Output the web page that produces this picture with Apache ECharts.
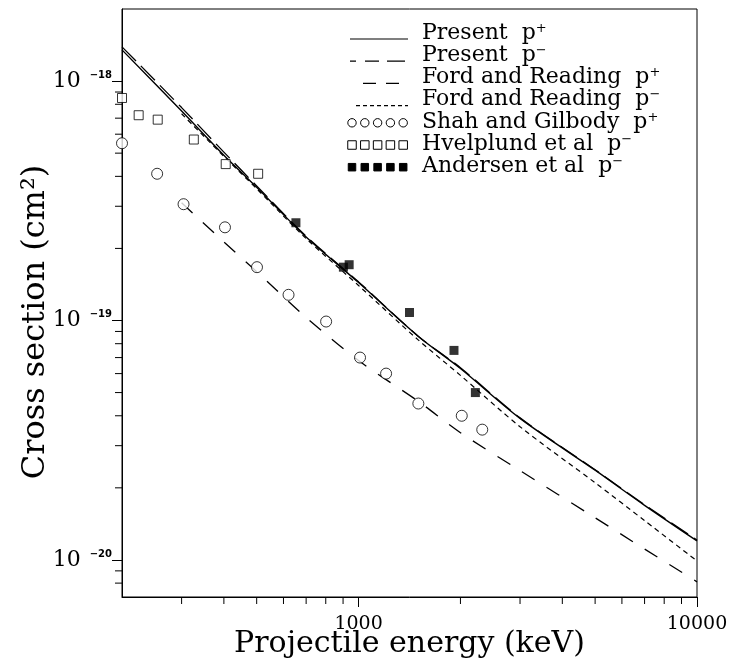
<!DOCTYPE html>
<html>
<head>
<meta charset="utf-8">
<script src="https://cdn.jsdelivr.net/npm/echarts@6/dist/echarts.min.js"></script>
<style>
  html, body { margin: 0; padding: 0; background: #fff; }
  #chart { width: 731px; height: 664px; }
</style>
</head>
<body>
<div id="chart"></div>
<script>
// projectile energy (keV) and cross section (cm^2)
const curveE = [200, 300, 400, 500, 700, 1000, 1500, 2000, 3000, 5000, 7000, 10000];
const presentPlus = [1.35e-18, 7.5e-19, 4.9e-19, 3.6e-19, 2.23e-19, 1.44e-19, 8.6e-20, 6.3e-20, 3.9e-20, 2.37e-20, 1.69e-20, 1.2e-20];
const presentMinus = [1.39e-18, 7.75e-19, 5.05e-19, 3.65e-19, 2.25e-19, 1.45e-19, 8.6e-20, 6.35e-20, 3.92e-20, 2.38e-20, 1.7e-20, 1.21e-20];

const fordE = [300, 400, 500, 700, 1000, 1500, 2000, 3000, 5000, 7000, 10000];
const fordPlus = [3.1e-19, 2.13e-19, 1.6e-19, 1.03e-19, 6.8e-20, 4.6e-20, 3.4e-20, 2.36e-20, 1.5e-20, 1.11e-20, 8.1e-21];
const fordMinus = [7.3e-19, 4.85e-19, 3.55e-19, 2.2e-19, 1.4e-19, 8.3e-20, 5.9e-20, 3.6e-20, 2.1e-20, 1.46e-20, 9.9e-21];

const shahE = [200, 254, 304, 403, 501, 621, 802, 1010, 1206, 1502, 2018, 2320];
const shahSigma = [5.5e-19, 4.1e-19, 3.06e-19, 2.45e-19, 1.67e-19, 1.28e-19, 9.9e-20, 7.0e-20, 6.0e-20, 4.5e-20, 4.0e-20, 3.5e-20];

const hvelE = [200, 224, 255, 326, 405, 505];
const hvelSigma = [8.5e-19, 7.2e-19, 6.9e-19, 5.7e-19, 4.5e-19, 4.1e-19];

const andE = [653, 902, 938, 1414, 1914, 2214];
const andSigma = [2.56e-19, 1.67e-19, 1.71e-19, 1.08e-19, 7.5e-20, 5.0e-20];

const xMin = 200, xMax = 10000;
const yMin = 7e-21, yMax = 2e-18;
const xMinorTicks = [300, 400, 500, 600, 700, 800, 900, 2000, 3000, 4000, 5000, 6000, 7000, 8000, 9000];
const yMinorTicks = [8e-21, 9e-21, 2e-20, 3e-20, 4e-20, 5e-20, 6e-20, 7e-20, 8e-20, 9e-20,
  2e-19, 3e-19, 4e-19, 5e-19, 6e-19, 7e-19, 8e-19, 9e-19];

const legendRows = [
  { name: 'Present', sign: '+', kind: 'solid' },
  { name: 'Present', sign: '−', kind: 'longdash' },
  { name: 'Ford and Reading', sign: '+', kind: 'dash' },
  { name: 'Ford and Reading', sign: '−', kind: 'dot' },
  { name: 'Shah and Gilbody', sign: '+', kind: 'circle' },
  { name: 'Hvelplund et al', sign: '−', kind: 'square' },
  { name: 'Andersen et al', sign: '−', kind: 'filled' }
];

const SERIF = '"DejaVu Serif", "Liberation Serif", serif';

function pairs(xs, ys) {
  return xs.map((x, i) => [x, ys[i]]);
}

function isDecade(v) {
  const e = Math.log10(v);
  return Math.abs(e - Math.round(e)) < 1e-6;
}

const chart = echarts.init(document.getElementById('chart'));

const lineBase = { type: 'line', symbol: 'none', smooth: 0.3, z: 2 };

chart.setOption({
  animation: false,
  backgroundColor: '#fff',
  grid: {
    left: 122, right: 34, top: 9, bottom: 67,
    containLabel: false,
    outerBoundsMode: 'none',
    show: true, borderColor: '#000', borderWidth: 1
  },
  xAxis: {
    type: 'log',
    min: xMin,
    max: xMax,
    splitLine: { show: false },
    axisLine: { lineStyle: { color: '#000', width: 1 } },
    axisTick: { length: 10, lineStyle: { color: '#000' } },
    axisLabel: {
      margin: 18,
      showMinLabel: false,
      color: '#000',
      fontFamily: SERIF,
      fontSize: 19,
      formatter: v => (isDecade(v) ? String(Math.round(v)) : '')
    },
    name: 'Projectile energy (keV)',
    nameLocation: 'middle',
    nameMoveOverlap: false,
    nameGap: 32,
    nameTextStyle: { fontFamily: SERIF, fontSize: 30, color: '#000' }
  },
  yAxis: {
    type: 'log',
    min: yMin,
    max: yMax,
    splitLine: { show: false },
    axisLine: { lineStyle: { color: '#000', width: 1 } },
    axisTick: { length: 10, lineStyle: { color: '#000' } },
    axisLabel: {
      margin: 10,
      showMinLabel: false,
      showMaxLabel: false,
      formatter: v => {
        if (!isDecade(v)) return '';
        const e = Math.round(Math.log10(v));
        return '{b|10}{e|−' + (-e) + '}';
      },
      rich: {
        b: { fontFamily: SERIF, fontSize: 22, color: '#000', lineHeight: 22 },
        e: { fontFamily: '"DejaVu Sans", sans-serif', fontSize: 10, fontWeight: 'bold',
             color: '#000', verticalAlign: 'top', padding: [0, 0, 0, 9] }
      }
    },
    name: 'Cross section (cm²)',
    nameLocation: 'middle',
    nameMoveOverlap: false,
    nameGap: 70,
    nameTextStyle: { fontFamily: SERIF, fontSize: 32, color: '#000', padding: [0, 38, 0, 0] }
  },
  series: [
    Object.assign({}, lineBase, {
      name: 'Present p+',
      data: pairs(curveE, presentPlus),
      lineStyle: { color: '#000', width: 1.4, type: 'solid' }
    }),
    Object.assign({}, lineBase, {
      name: 'Present p-',
      data: pairs(curveE, presentMinus),
      lineStyle: { color: '#000', width: 1.3, type: [20, 7] }
    }),
    Object.assign({}, lineBase, {
      name: 'Ford and Reading p+',
      data: pairs(fordE, fordPlus),
      lineStyle: { color: '#000', width: 1.3, type: [15, 14] }
    }),
    Object.assign({}, lineBase, {
      name: 'Ford and Reading p-',
      data: pairs(fordE, fordMinus),
      lineStyle: { color: '#000', width: 1.2, type: [5, 4] }
    }),
    {
      name: 'Shah and Gilbody p+',
      type: 'scatter',
      symbol: 'circle',
      symbolSize: 11,
      z: 3,
      itemStyle: { color: '#fff', borderColor: '#000', borderWidth: 1 },
      data: pairs(shahE, shahSigma)
    },
    {
      name: 'Hvelplund et al p-',
      type: 'scatter',
      symbol: 'rect',
      symbolSize: 9,
      z: 3,
      itemStyle: { color: '#fff', borderColor: '#000', borderWidth: 1 },
      data: pairs(hvelE, hvelSigma)
    },
    {
      name: 'Andersen et al p-',
      type: 'scatter',
      symbol: 'rect',
      symbolSize: 9,
      z: 3,
      itemStyle: { color: '#000' },
      data: pairs(andE, andSigma)
    }
  ]
});

// minor ticks on the log axes, placed through the axis scales
const left = chart.convertToPixel({ xAxisIndex: 0 }, xMin);
const bottom = chart.convertToPixel({ yAxisIndex: 0 }, yMin);
const graphics = [];
xMinorTicks.forEach(v => {
  const px = chart.convertToPixel({ xAxisIndex: 0 }, v);
  graphics.push({ type: 'line', shape: { x1: px, y1: bottom, x2: px, y2: bottom + 7 },
    style: { stroke: '#000', lineWidth: 1 }, silent: true });
});
yMinorTicks.forEach(v => {
  const py = chart.convertToPixel({ yAxisIndex: 0 }, v);
  graphics.push({ type: 'line', shape: { x1: left - 7, y1: py, x2: left, y2: py },
    style: { stroke: '#000', lineWidth: 1 }, silent: true });
});

// legend box, top right
const legX = 350, legW = 58, textX = 422;
const rowY0 = 33, rowStep = 22.2;
legendRows.forEach((r, i) => {
  const cy = rowY0 + i * rowStep;
  const ly = cy + 6;
  if (r.kind === 'solid' || r.kind === 'longdash' || r.kind === 'dash' || r.kind === 'dot') {
    let x1 = legX, dash = null;
    if (r.kind === 'longdash') dash = [6, 9, 14, 8, 18];
    if (r.kind === 'dash') { x1 = legX + 13; dash = [13, 10]; }
    if (r.kind === 'dot') { x1 = legX + 6; dash = [4, 3]; }
    graphics.push({ type: 'line', shape: { x1: x1, y1: ly, x2: legX + legW, y2: ly },
      style: { stroke: '#000', lineWidth: 1.2, lineDash: dash }, silent: true });
  } else {
    for (let k = 0; k < 5; k++) {
      const mx = legX + 2 + k * 12.8;
      if (r.kind === 'circle') {
        graphics.push({ type: 'circle', shape: { cx: mx, cy: cy + 1, r: 4.2 },
          style: { fill: '#fff', stroke: '#000', lineWidth: 1 }, silent: true });
      } else {
        const s = r.kind === 'filled' ? 7.5 : 8.5;
        graphics.push({ type: 'rect', shape: { x: mx - s / 2, y: cy + 1 - s / 2, width: s, height: s },
          style: { fill: r.kind === 'filled' ? '#000' : '#fff', stroke: '#000', lineWidth: 1 }, silent: true });
      }
    }
  }
  graphics.push({
    type: 'text', x: textX, y: cy, silent: true,
    style: {
      text: r.name + '  p{s|' + r.sign + '}',
      font: '22px ' + SERIF,
      fill: '#000',
      verticalAlign: 'middle',
      rich: { s: { fontSize: 13, fontFamily: SERIF, verticalAlign: 'top', fill: '#000' } }
    }
  });
});

chart.setOption({ graphic: graphics });
</script>
</body>
</html>
